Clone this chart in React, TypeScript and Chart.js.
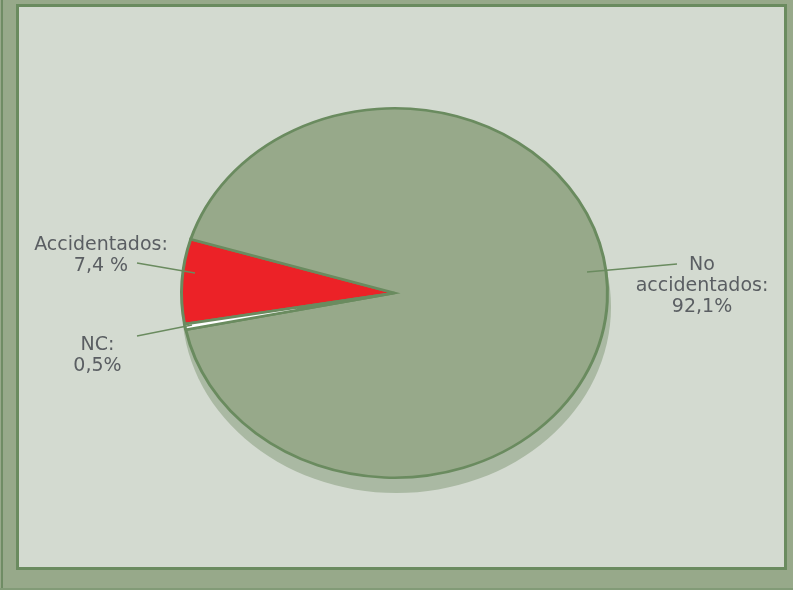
import React, { useEffect, useRef } from "react";
import { Chart, registerables } from "chart.js";

Chart.register(...registerables);

// ---- data ----
const categories = ["Accidentados", "No accidentados", "NC"];
const percentages = [7.4, 92.1, 0.5];
const labelTexts = [
  ["Accidentados:", "7,4 %"],
  ["No", "accidentados:", "92,1%"],
  ["NC:", "0,5%"],
];
const sliceColors = ["#ec2227", "#97a98a", "#ffffff"];

// ---- layout / style ----
const LAYOUT = {
  rotation: 260.3,
  radius: 213,
  squash: 0.867,
  shadow: { dx: 2, dy: 14, color: "#aab9a3" },
  border: "#6a8b5f",
  textColor: "#5a5e62",
  font: "19px 'DejaVu Sans', Verdana, sans-serif",
  lineHeight: 21,
  labels: [
    { x: 101, y: 249.5, line: [137, 263, 195, 273] },
    { x: 702, y: 270, line: [677, 264, 587, 272] },
    { x: 97.5, y: 350, line: [137, 336, 192, 325] },
  ],
};

const ellipsePlugin = {
  id: "ellipsePie",
  beforeDatasetsDraw(chart: any) {
    const arc = chart.getDatasetMeta(0).data[0];
    if (!arc) return;
    const { x, y, outerRadius } = arc;
    const ctx = chart.ctx as CanvasRenderingContext2D;
    const s = LAYOUT.squash;
    ctx.save();
    ctx.translate(x, y);
    ctx.scale(1, s);
    ctx.translate(-x, -y);
    ctx.beginPath();
    ctx.arc(x + LAYOUT.shadow.dx, y + LAYOUT.shadow.dy / s, outerRadius + 1.5, 0, Math.PI * 2);
    ctx.fillStyle = LAYOUT.shadow.color;
    ctx.fill();
  },
  afterDatasetsDraw(chart: any) {
    chart.ctx.restore();
  },
  afterDraw(chart: any) {
    const ctx = chart.ctx as CanvasRenderingContext2D;
    ctx.save();
    LAYOUT.labels.forEach((lab, i) => {
      const [x1, y1, x2, y2] = lab.line;
      ctx.beginPath();
      ctx.moveTo(x1, y1);
      ctx.lineTo(x2, y2);
      ctx.strokeStyle = LAYOUT.border;
      ctx.lineWidth = 1.3;
      ctx.stroke();
      ctx.fillStyle = LAYOUT.textColor;
      ctx.font = LAYOUT.font;
      ctx.textAlign = "center";
      ctx.textBaseline = "alphabetic";
      labelTexts[i].forEach((t, j) => {
        ctx.fillText(t, lab.x, lab.y + j * LAYOUT.lineHeight);
      });
    });
    ctx.restore();
  },
};

function PieChart() {
  const ref = useRef<HTMLCanvasElement>(null);
  useEffect(() => {
    if (!ref.current) return;
    const chart = new Chart(ref.current, {
      type: "pie",
      data: {
        labels: categories,
        datasets: [
          {
            data: percentages,
            backgroundColor: sliceColors,
            borderColor: LAYOUT.border,
            borderWidth: 3,
            borderJoinStyle: "miter",
          } as any,
        ],
      },
      options: {
        animation: false,
        responsive: false,
        events: [],
        rotation: LAYOUT.rotation,
        radius: LAYOUT.radius,
        layout: { padding: { left: 0, right: 4, top: 0, bottom: 4 } },
        plugins: {
          legend: { display: false },
          tooltip: { enabled: false },
        },
      } as any,
      plugins: [ellipsePlugin],
    });
    return () => chart.destroy();
  }, []);
  return (
    <canvas
      ref={ref}
      width={793}
      height={590}
      style={{ position: "absolute", left: 0, top: 0, display: "block" }}
    />
  );
}

export default function App() {
  return (
    <div
      style={{
        position: "fixed",
        left: 0,
        top: 0,
        width: 793,
        height: 590,
        background: "#97a98a",
        overflow: "hidden",
      }}
    >
      <div
        style={{
          position: "absolute",
          left: 1,
          top: 0,
          width: 2,
          height: 590,
          background: "#6f8c64",
        }}
      />
      <div
        style={{
          position: "absolute",
          left: 0,
          top: 588,
          width: 793,
          height: 2,
          background: "#829b77",
        }}
      />
      <div
        style={{
          position: "absolute",
          left: 16,
          top: 4,
          width: 771,
          height: 566,
          boxSizing: "border-box",
          border: "3px solid #6a8b5f",
          background: "#d3dad0",
        }}
      />
      <PieChart />
    </div>
  );
}
